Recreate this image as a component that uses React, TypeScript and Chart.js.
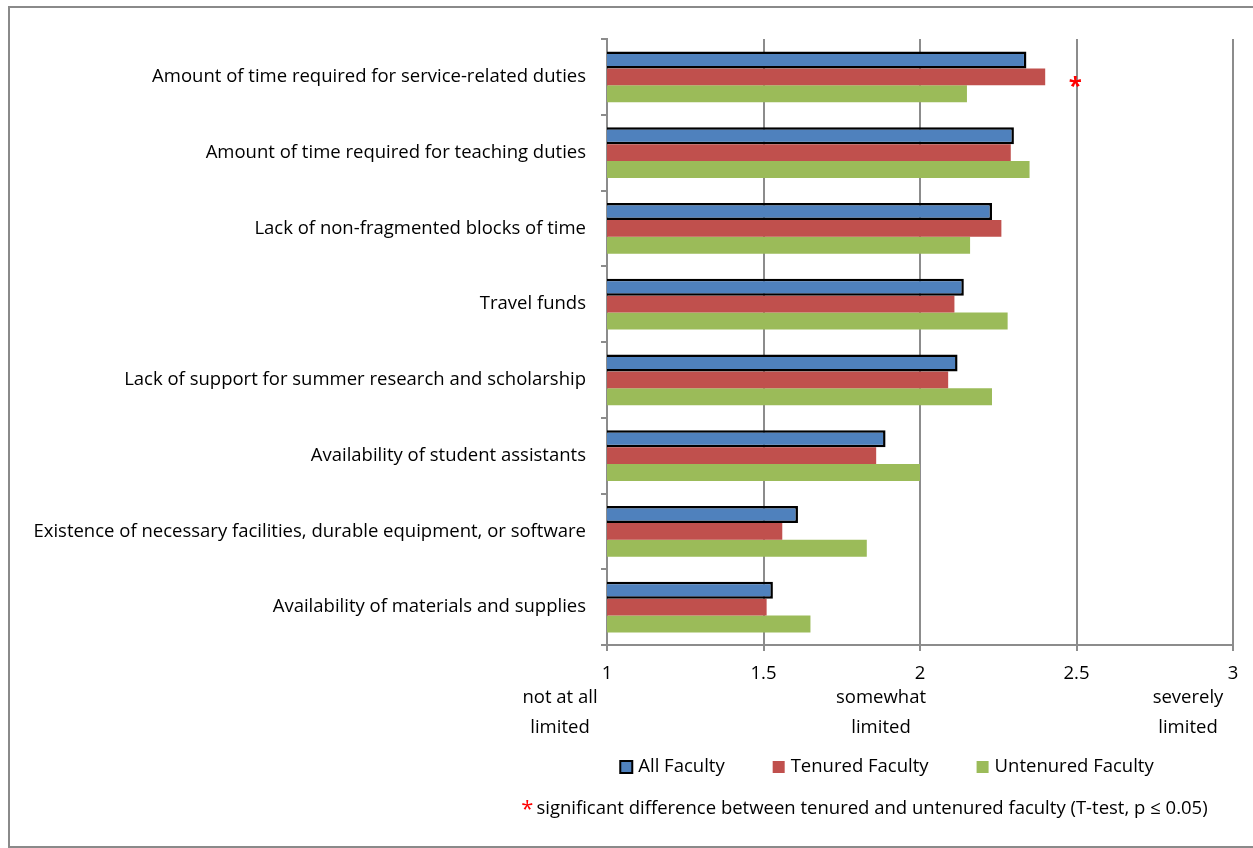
import React, { useEffect, useRef } from "react";
import { Chart, registerables } from "chart.js";

Chart.register(...registerables);

const categories = [
  "Amount of time required for service-related duties",
  "Amount of time required for teaching duties",
  "Lack of non-fragmented blocks of time",
  "Travel funds",
  "Lack of support for summer research and scholarship",
  "Availability of student assistants",
  "Existence of necessary facilities, durable equipment, or software",
  "Availability of materials and supplies",
];
const seriesNames = ["All Faculty", "Tenured Faculty", "Untenured Faculty"];
const allFaculty = [2.34, 2.3, 2.23, 2.14, 2.12, 1.89, 1.61, 1.53];
const tenuredFaculty = [2.4, 2.29, 2.26, 2.11, 2.09, 1.86, 1.56, 1.51];
const untenuredFaculty = [2.15, 2.35, 2.16, 2.28, 2.23, 2.0, 1.83, 1.65];
const significant = [true, false, false, false, false, false, false, false];
const xMin = 1;
const xMax = 3;
const xStep = 0.5;
const scaleLabels = [
  ["not at all", "limited"],
  ["somewhat", "limited"],
  ["severely", "limited"],
];
const scaleLabelValues = [1, 2, 3];
const footnote = "significant difference between tenured and untenured faculty (T-test, p \u2264 0.05)";

const FONT = "'Open Sans', Lato, sans-serif";
const FS = 18.5;
const BLUE = "#4F81BD";
const RED = "#C0504D";
const GREEN = "#9BBB59";
const GRID = "#8c8c8c";

const annotationPlugin = {
  id: "annotations",
  afterDraw(chart: any) {
    const ctx = chart.ctx;
    const xs = chart.scales.x;
    const area = chart.chartArea;
    ctx.save();
    ctx.font = `${FS}px ${FONT}`;
    ctx.fillStyle = "#000";
    ctx.textAlign = "center";
    ctx.textBaseline = "middle";
    const offsets = [-47, -39, -45];
    scaleLabels.forEach((lines, i) => {
      const cx = xs.getPixelForValue(scaleLabelValues[i]) + offsets[i];
      lines.forEach((t, j) => ctx.fillText(t, cx, area.bottom + 53 + j * 30));
    });

    // significance asterisks
    const meta = chart.getDatasetMeta(1);
    significant.forEach((s, i) => {
      if (!s) return;
      const bar = meta.data[i];
      ctx.fillStyle = "#ff0000";
      ctx.font = `bold 24px ${FONT}`;
      ctx.textAlign = "center";
      ctx.fillText("*", bar.x + 30, bar.y + 10);
    });

    // legend
    const colors = [BLUE, RED, GREEN];
    ctx.font = `${FS}px ${FONT}`;
    const gap = 48;
    const box = 12;
    const widths = seriesNames.map((n) => box + 6 + ctx.measureText(n).width);
    const total = widths.reduce((a, b) => a + b, 0) + gap * (seriesNames.length - 1);
    const centerX = (area.left + area.right) / 2 - 33;
    let lx = centerX - total / 2;
    const ly = area.bottom + 122;
    seriesNames.forEach((n, i) => {
      ctx.fillStyle = colors[i];
      ctx.fillRect(lx, ly - box / 2, box, box);
      if (i === 0) {
        ctx.strokeStyle = "#000";
        ctx.lineWidth = 2;
        ctx.strokeRect(lx, ly - box / 2, box, box);
      }
      ctx.fillStyle = "#000";
      ctx.textAlign = "left";
      ctx.fillText(n, lx + box + 6, ly);
      lx += widths[i] + gap;
    });

    // footnote
    const fy = area.bottom + 164;
    const fw = ctx.measureText(footnote).width;
    const fcx = (area.left + area.right) / 2 - 48;
    const fx = fcx - fw / 2;
    ctx.textAlign = "left";
    ctx.fillStyle = "#000";
    ctx.fillText(footnote, fx, fy);
    ctx.fillStyle = "#ff0000";
    ctx.font = `22px ${FONT}`;
    ctx.textAlign = "right";
    ctx.fillText("*", fx - 3, fy + 1);
    ctx.restore();
  },
};

export default function App() {
  const ref = useRef<HTMLCanvasElement | null>(null);
  useEffect(() => {
    if (!ref.current) return;
    const chart = new Chart(ref.current, {
      type: "bar",
      data: {
        labels: categories,
        datasets: [
          {
            label: seriesNames[0],
            data: allFaculty,
            backgroundColor: BLUE,
            borderColor: "#000",
            borderWidth: 2.5,
            borderSkipped: false,
          },
          {
            label: seriesNames[1],
            data: tenuredFaculty,
            backgroundColor: RED,
            borderWidth: 0,
          },
          {
            label: seriesNames[2],
            data: untenuredFaculty,
            backgroundColor: GREEN,
            borderWidth: 0,
          },
        ],
      },
      options: {
        indexAxis: "y",
        responsive: false,
        animation: false,
        categoryPercentage: 0.67,
        barPercentage: 1.0,
        layout: { padding: { top: 39, right: 20, left: 0, bottom: 0 } },
        plugins: {
          legend: { display: false },
          tooltip: { enabled: false },
        },
        scales: {
          x: {
            type: "linear",
            min: xMin,
            max: xMax,
            ticks: {
              stepSize: xStep,
              color: "#000",
              font: { family: FONT, size: FS },
              padding: 12,
              callback: (v: any) => String(Number(v)),
            },
            grid: { color: GRID, lineWidth: 2, tickLength: 6, drawTicks: true },
            border: { color: GRID, width: 2 },
            afterFit(scale: any) {
              scale.height = 203;
            },
          },
          y: {
            type: "category",
            ticks: {
              color: "#000",
              font: { family: FONT, size: FS },
              padding: 15,
            },
            grid: {
              drawOnChartArea: false,
              offset: true,
              color: GRID,
              lineWidth: 2,
              tickLength: 6,
            },
            border: { color: GRID, width: 2 },
            afterFit(scale: any) {
              scale.width = 607;
            },
          },
        },
      },
      plugins: [annotationPlugin],
    } as any);
    return () => chart.destroy();
  }, []);

  return (
    <div style={{ position: "absolute", left: 0, top: 0, width: 1253, height: 848, overflow: "hidden", background: "#fff" }}>
      <div
        style={{
          position: "absolute",
          left: 8,
          top: 6,
          width: 1245,
          height: 842,
          borderLeft: "2px solid #8a8a8a",
          borderTop: "2px solid #8a8a8a",
          borderBottom: "2px solid #8a8a8a",
          boxSizing: "border-box",
        }}
      />
      <canvas ref={ref} width={1253} height={848} style={{ position: "absolute", left: 0, top: 0, display: "block" }} />
    </div>
  );
}
